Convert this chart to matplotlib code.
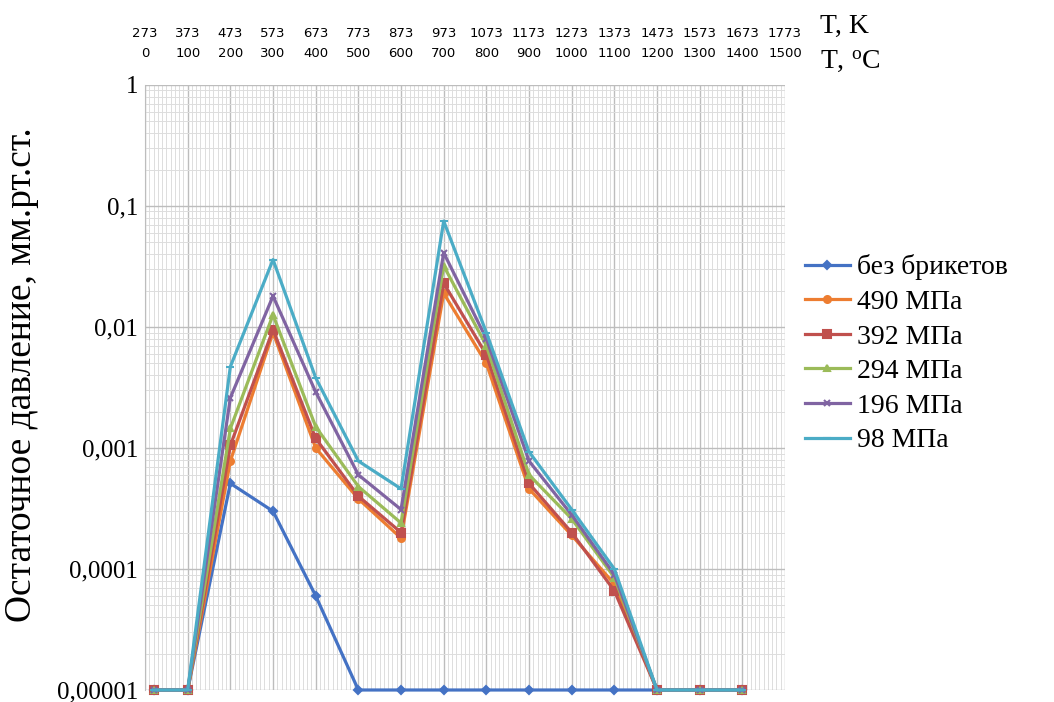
import matplotlib
matplotlib.use('Agg')
import matplotlib.pyplot as plt
import numpy as np
from matplotlib.ticker import FixedLocator, LogLocator, NullFormatter, MultipleLocator

# температура, °C
t = [20, 100, 200, 300, 400, 500, 600, 700, 800, 900, 1000, 1100, 1200, 1300, 1400]

bez = [1e-5, 1e-5, 5.1e-4, 3.0e-4, 6.0e-5, 1e-5, 1e-5, 1e-5, 1e-5, 1e-5, 1e-5, 1e-5, 1e-5, 1e-5, 1e-5]
p490 = [1e-5, 1e-5, 7.8e-4, 9.0e-3, 1.0e-3, 3.8e-4, 1.8e-4, 1.9e-2, 5.0e-3, 4.6e-4, 1.9e-4, 7.5e-5, 1e-5, 1e-5, 1e-5]
p392 = [1e-5, 1e-5, 1.05e-3, 9.5e-3, 1.2e-3, 4.0e-4, 2.0e-4, 2.3e-2, 5.9e-3, 5.1e-4, 2.0e-4, 6.6e-5, 1e-5, 1e-5, 1e-5]
p294 = [1e-5, 1e-5, 1.45e-3, 1.26e-2, 1.5e-3, 4.8e-4, 2.4e-4, 3.2e-2, 7.0e-3, 6.0e-4, 2.6e-4, 8.5e-5, 1e-5, 1e-5, 1e-5]
p196 = [1e-5, 1e-5, 2.6e-3, 1.8e-2, 2.9e-3, 6.0e-4, 3.1e-4, 4.1e-2, 8.0e-3, 7.8e-4, 2.8e-4, 9.0e-5, 1e-5, 1e-5, 1e-5]
p98 = [1e-5, 1e-5, 4.7e-3, 3.6e-2, 3.8e-3, 7.8e-4, 4.6e-4, 7.5e-2, 9.0e-3, 9.3e-4, 3.1e-4, 1.0e-4, 1e-5, 1e-5, 1e-5]

names = ['без брикетов', '490 МПа', '392 МПа', '294 МПа', '196 МПа', '98 МПа']
colors = ['#4472C4', '#ED7D31', '#C0504D', '#9BBB59', '#8064A2', '#4BACC6']
markers = ['D', 'o', 's', '^', 'x', '_']
sizes = [4, 5, 6, 5, 5, 6]

c_ticks = list(range(0, 1501, 100))
k_ticks = [c + 273 for c in c_ticks]
y_ticks = [1e-5, 1e-4, 1e-3, 1e-2, 1e-1, 1]
y_labels = ['0,00001', '0,0001', '0,001', '0,01', '0,1', '1']

serif = 'Liberation Serif'

fig = plt.figure(figsize=(10.54, 7.02), dpi=100)
ax = fig.add_axes([0.1376, 0.0171, 0.6072, 0.8619])

for y, n, c, m, s in zip([bez, p490, p392, p294, p196, p98], names, colors, markers, sizes):
    ax.plot(t, y, color=c, lw=2.3, marker=m, ms=s, mew=1.5, label=n, clip_on=False)

ax.set_yscale('log')
ax.set_ylim(1e-5, 1)
ax.set_xlim(0, 1500)

ax.yaxis.set_major_locator(FixedLocator(y_ticks))
ax.set_yticklabels(y_labels, fontfamily=serif, fontsize=18)
ax.yaxis.set_minor_locator(LogLocator(base=10, subs=np.arange(2, 10)))
ax.yaxis.set_minor_formatter(NullFormatter())

ax.xaxis.tick_top()
ax.set_xticks(c_ticks)
ax.set_xticklabels([str(c) for c in c_ticks], fontsize=9.5)
ax.xaxis.set_minor_locator(MultipleLocator(10))
ax.tick_params(axis='x', which='both', length=0, pad=18)
ax.tick_params(axis='y', which='both', length=0, pad=5)

ax.grid(True, which='major', color='#BDBDBD', lw=1.0)
ax.grid(True, which='minor', color='#DDDDDD', lw=0.7)
ax.set_axisbelow(True)
for sp in ax.spines.values():
    sp.set_visible(False)
ax.spines['left'].set_visible(True)
ax.spines['left'].set_color('#BDBDBD')

sec = ax.secondary_xaxis('top', functions=(lambda c: c + 273, lambda k: k - 273))
sec.set_xticks(k_ticks)
sec.set_xticklabels([str(k) for k in k_ticks], fontsize=9.5)
sec.tick_params(length=0, pad=32.5)
sec.spines['top'].set_visible(False)

fig.text(0.778, 0.953, 'T, K', fontfamily=serif, fontsize=20, va='baseline')
fig.text(0.778, 0.903, 'T, $\\mathregular{^o}$C', fontfamily=serif, fontsize=20, va='baseline')

ax.set_ylabel('Остаточное давление, мм.рт.ст.', fontfamily=serif, fontsize=27)
ax.yaxis.set_label_coords(-0.165, 0.521)

ax.legend(loc='center left', bbox_to_anchor=(0.764, 0.496), bbox_transform=fig.transFigure,
          frameon=False, prop={'family': serif, 'size': 20}, handlelength=1.6,
          handletextpad=0.25, labelspacing=0.33, borderpad=0, borderaxespad=0)

fig.savefig('out.png', dpi=100)
